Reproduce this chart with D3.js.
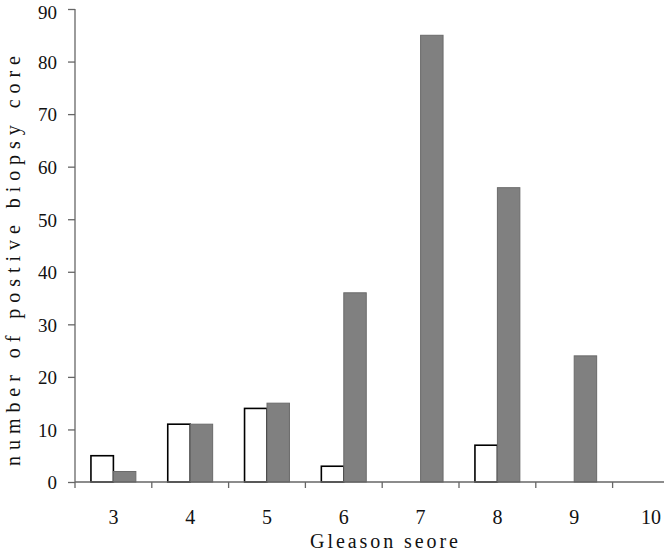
<!DOCTYPE html>
<html><head><meta charset="utf-8">
<script src="https://cdn.jsdelivr.net/npm/d3@7"></script>
<style>body{margin:0;background:#fff;} svg{display:block;}</style>
</head><body>
<svg id="chart" width="664" height="552"></svg>
<script>
const categories = ["3","4","5","6","7","8","9","10"];
const seriesWhite = [5, 11, 14, 3, 0, 7, 0, 0];
const seriesGray  = [2, 11, 15, 36, 85, 56, 24, 0];
const yTicks = [0,10,20,30,40,50,60,70,80,90];

const svg = d3.select("#chart");
const x0 = d3.scaleBand().domain(categories).range([75, 75 + 76.8*8]).paddingInner(0).paddingOuter(0);
const x1 = d3.scaleBand().domain(["w","g"]).range([0, x0.bandwidth()]).paddingInner(0).paddingOuter(0.71);
const y = d3.scaleLinear().domain([0, 90]).range([482, 9]);

const data = categories.map((c,i)=>({c, w: seriesWhite[i], g: seriesGray[i]}));

// bars
const grp = svg.append("g");
data.forEach(d=>{
  if (d.w > 0) grp.append("rect")
    .attr("x", x0(d.c) + x1("w")).attr("y", y(d.w))
    .attr("width", x1.bandwidth()).attr("height", y(0) - y(d.w))
    .attr("fill", "#fff").attr("stroke", "#000").attr("stroke-width", 1.6);
  if (d.g > 0) grp.append("rect")
    .attr("x", x0(d.c) + x1("g")).attr("y", y(d.g))
    .attr("width", x1.bandwidth()).attr("height", y(0) - y(d.g))
    .attr("fill", "#808080").attr("stroke", "#6a6a6a").attr("stroke-width", 1);
});

// y axis
const yAxis = d3.axisLeft(y).tickValues(yTicks).tickSize(7).tickPadding(11).tickSizeOuter(0);
const gy = svg.append("g").attr("transform", "translate(75,0)").call(yAxis);
gy.select(".domain").remove();
gy.append("line").attr("x1",0).attr("x2",0).attr("y1",9).attr("y2",488).attr("stroke","#666").attr("stroke-width",1.3);
gy.selectAll(".tick line").attr("stroke","#666").attr("stroke-width",1.3);
gy.selectAll(".tick text").attr("font-family","'Liberation Serif', serif").attr("font-size",19).attr("fill","#111")
  .attr("dy", d => d === 90 ? "0.5em" : "0.36em");

// x axis
const boundaries = categories.map(c => x0(c));
const gx = svg.append("g").attr("transform", "translate(0,482)");
gx.append("line").attr("x1",75).attr("x2",664).attr("y1",0).attr("y2",0).attr("stroke","#666").attr("stroke-width",1.3);
gx.selectAll("line.tk").data(boundaries.slice(1)).enter().append("line")
  .attr("x1",d=>d).attr("x2",d=>d).attr("y1",0).attr("y2",6).attr("stroke","#666").attr("stroke-width",1.3);
gx.selectAll("text.lb").data(categories).enter().append("text")
  .attr("x", d => x0(d) + x0.bandwidth()/2).attr("y", 42)
  .attr("text-anchor","middle")
  .attr("font-family","'Liberation Serif', serif").attr("font-size",20).attr("fill","#111")
  .text(d=>d);

// titles
svg.append("text").attr("x", 384).attr("y", 548).attr("text-anchor","middle")
  .attr("font-family","'Liberation Serif', serif").attr("font-size",20).attr("fill","#111")
  .attr("textLength", 148).attr("lengthAdjust","spacing")
  .text("Gleason seore");
svg.append("text").attr("transform","translate(20,261) rotate(-90)").attr("text-anchor","middle")
  .attr("font-family","'Liberation Serif', serif").attr("font-size",20).attr("fill","#111")
  .attr("textLength", 410).attr("lengthAdjust","spacing")
  .text("number of postive biopsy core");
</script>
</body></html>
